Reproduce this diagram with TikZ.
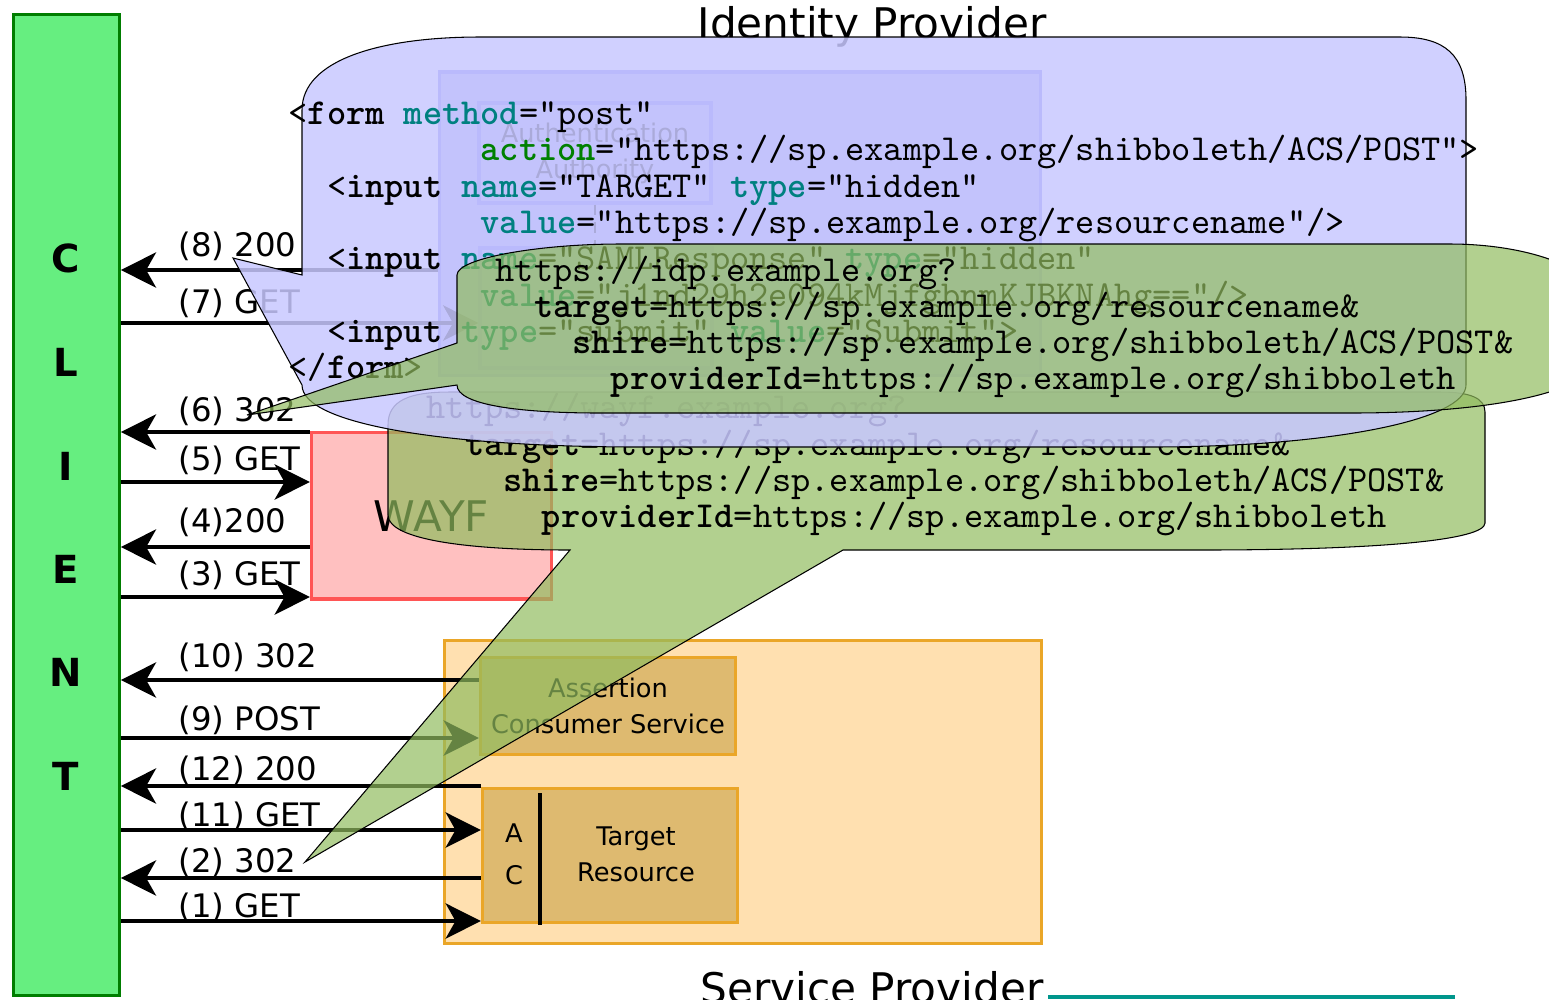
\documentclass[tikz,border=0pt]{standalone}
\usepackage{fontspec}
\usetikzlibrary{arrows.meta}

\newfontfamily\labelfont{DejaVu Sans}

\definecolor{clientgreen}{RGB}{102,238,128}
\definecolor{clientedge}{RGB}{0,125,0}
\definecolor{wayffill}{RGB}{255,192,192}
\definecolor{wayfedge}{RGB}{255,85,85}
\definecolor{spfill}{RGB}{255,224,176}
\definecolor{spinner}{RGB}{222,186,112}
\definecolor{spedge}{RGB}{234,166,40}
\definecolor{idpfill}{RGB}{170,170,240}
\definecolor{idpedge}{RGB}{110,110,235}
\definecolor{callblue}{RGB}{200,200,255}
\definecolor{callgreen}{RGB}{145,188,95}
\definecolor{attrteal}{RGB}{0,128,128}
\definecolor{actgreen}{RGB}{0,128,0}
\definecolor{linkteal}{RGB}{0,150,140}

% html bits inside the callouts
\newcommand\tg[1]{\textbf{#1}}
\newcommand\attr[1]{\textbf{\color{attrteal}#1}}
\newcommand\act[1]{\textbf{\color{actgreen}#1}}

\tikzset{
  box/.style={draw, line width=0.9pt, inner sep=0pt},
  msg/.style={line width=1.15pt, -{Stealth[length=10pt, width=10pt, inset=2.8pt]}},
  lbl/.style={font=\labelfont\fontsize{9.2}{11}\selectfont, anchor=base west, inner sep=0pt},
  letter/.style={font=\labelfont\bfseries\fontsize{11}{13}\selectfont, inner sep=0pt},
  small/.style={font=\labelfont\fontsize{7.3}{10.2}\selectfont, align=center, inner sep=0pt},
  title/.style={font=\labelfont\fontsize{12}{14}\selectfont, anchor=base, inner sep=0pt},
  code/.style={font=\ttfamily\fontsize{10.4}{12}\selectfont, anchor=base west, inner sep=0pt},
  greencall/.style={draw=black, line width=0.3pt, fill=callgreen, fill opacity=0.7},
  bluecall/.style={draw=black, line width=0.3pt, fill=callblue, fill opacity=0.85},
}

\begin{document}
\begin{tikzpicture}[x=0.01cm, y=-0.01cm]
\useasboundingbox (0,0) rectangle (1549,999);

% client column
\node[box, draw=clientedge, fill=clientgreen, minimum width=1.055cm, minimum height=9.805cm] (client) at (66.5,505) {};
\node[letter] (cC) at (66,258) {C};
\node[letter] (cL) at (66,362) {L};
\node[letter] (cI) at (66,466) {I};
\node[letter] (cE) at (66,569) {E};
\node[letter] (cN) at (66,672) {N};
\node[letter] (cT) at (66,776) {T};

% identity provider
\node[box, draw=idpedge, fill=idpfill, minimum width=6cm, minimum height=3.03cm] (idp) at (740,223.5) {};
\node[box, draw=idpedge, fill=idpfill, minimum width=2.32cm, minimum height=1cm, small] (aa) at (595,153) {Authentication\\Authority};
\node[box, draw=idpedge, fill=idpfill, minimum width=2.32cm, minimum height=1.2cm] (sso) at (596,308) {};
\draw[densely dashed, line width=0.8pt] (aa.south) -- (aa.south |- sso.north);
\node[title] (idptitle) at (872,38) {Identity Provider};

% where are you from
\node[box, draw=wayfedge, fill=wayffill, minimum width=2.40cm, minimum height=1.665cm,
  font=\labelfont\fontsize{12}{14}\selectfont] (wayf) at (431.5,515.75) {WAYF};

% service provider
\node[box, draw=spedge, fill=spfill, minimum width=5.97cm, minimum height=3.03cm] (sp) at (743,792) {};
\node[box, draw=spedge, fill=spinner, minimum width=2.55cm, minimum height=0.97cm, small] (acs) at (608,706) {Assertion\\Consumer Service};
\node[box, draw=spedge, fill=spinner, minimum width=2.55cm, minimum height=1.34cm] (tr) at (610,855.5) {};
\node[small] (trname) at (636,854) {Target\\Resource};
\node[small] (trA) at (514,833) {A};
\node[small] (trC) at (514,875) {C};
\draw[line width=1.1pt] (540,793) -- (540,925);
\node[title] (sptitle) at (872,1003) {Service Provider};
\draw[line width=1pt, linkteal] (1048,997) -- (1455,997);

% requests
\draw[msg] (client.east |- 0,921) -- (tr.west |- 0,921);
\draw[msg] (client.east |- 0,597) -- (wayf.west |- 0,597);
\draw[msg] (client.east |- 0,482) -- (wayf.west |- 0,482);
\draw[msg] (client.east |- 0,323) -- (sso.west |- 0,323);
\draw[msg] (client.east |- 0,738) -- (acs.west |- 0,738);
\draw[msg] (client.east |- 0,830) -- (tr.west |- 0,830);
% responses
\draw[msg] (tr.west |- 0,878) -- (client.east |- 0,878);
\draw[msg] (wayf.west |- 0,547) -- (client.east |- 0,547);
\draw[msg] (wayf.west |- 0,432) -- (client.east |- 0,432);
\draw[msg] (idp.west |- 0,270) -- (client.east |- 0,270);
\draw[msg] (acs.west |- 0,680) -- (client.east |- 0,680);
\draw[msg] (tr.west |- 0,786) -- (client.east |- 0,786);

\node[lbl] (l8) at (178,256) {(8) 200};
\node[lbl] (l7) at (178,313) {(7) GET};
\node[lbl] (l6) at (178,421) {(6) 302};
\node[lbl] (l5) at (178,470) {(5) GET};
\node[lbl] (l4) at (178,532) {(4)200};
\node[lbl] (l3) at (178,585) {(3) GET};
\node[lbl] (l10) at (178,667) {(10) 302};
\node[lbl] (l9) at (178,730) {(9) POST};
\node[lbl] (l12) at (178,780) {(12) 200};
\node[lbl] (l11) at (178,826) {(11) GET};
\node[lbl] (l2) at (178,872) {(2) 302};
\node[lbl] (l1) at (178,917) {(1) GET};

% redirect to the wayf
\path[greencall] (388,425) .. controls (388,400) and (410,392) .. (450,392) -- (1440,392)
  .. controls (1470,392) and (1485,398) .. (1485,412) -- (1485,523)
  .. controls (1485,540) and (1380,550) .. (1200,550) -- (843,550) -- (305,862) -- (570,550)
  .. controls (470,550) and (388,540) .. (388,515) -- cycle;
\node[code] (w1) at (426,418) {https://wayf.example.org?};
\node[code] (w2) at (464.4,455) {\tg{target}=https://sp.example.org/resourcename\&};
\node[code] (w3) at (502.8,491) {\tg{shire}=https://sp.example.org/shibboleth/ACS/POST\&};
\node[code] (w4) at (541.2,527) {\tg{providerId}=https://sp.example.org/shibboleth};

% form sent back by the idp
\path[bluecall] (302,110) -- (302,275) -- (233,258) -- (302,385)
  .. controls (302,425) and (450,447) .. (640,447) -- (1150,447)
  .. controls (1330,447) and (1466,420) .. (1466,385) -- (1466,100)
  .. controls (1466,55) and (1445,37) .. (1400,37) -- (480,37)
  .. controls (380,37) and (302,60) .. (302,110) -- cycle;
\node[code] (f1) at (288,124) {<\tg{form} \attr{method}="post"};
\node[code] (f2) at (480,160) {\act{action}="https://sp.example.org/shibboleth/ACS/POST">};
\node[code] (f3) at (326.4,197) {<\tg{input} \attr{name}="TARGET" \attr{type}="hidden"};
\node[code] (f4) at (480,233) {\attr{value}="https://sp.example.org/resourcename"/>};
\node[code] (f5) at (326.4,269) {<\tg{input} \attr{name}="SAMLResponse" \attr{type}="hidden"};
\node[code] (f6) at (480,306) {\attr{value}="j1nd29h2e094kMjfgbnmKJBKNAhg=="/>};
\node[code] (f7) at (326.4,342) {<\tg{input} \attr{type}="submit" \attr{value}="Submit">};
\node[code] (f8) at (288,378) {</\tg{form}>};

% redirect to the idp
\path[greencall] (457,275) -- (457,343) -- (247,415) -- (457,385)
  .. controls (457,405) and (520,413) .. (600,413) -- (1350,413)
  .. controls (1500,413) and (1600,390) .. (1600,353) -- (1600,304)
  .. controls (1600,270) and (1530,244) .. (1450,244) -- (620,244)
  .. controls (540,244) and (457,258) .. (457,275) -- cycle;
\node[code] (i1) at (495,281) {https://idp.example.org?};
\node[code] (i2) at (533.4,317) {\tg{target}=https://sp.example.org/resourcename\&};
\node[code] (i3) at (571.8,353) {\tg{shire}=https://sp.example.org/shibboleth/ACS/POST\&};
\node[code] (i4) at (610.2,389) {\tg{providerId}=https://sp.example.org/shibboleth};
\end{tikzpicture}
\end{document}
